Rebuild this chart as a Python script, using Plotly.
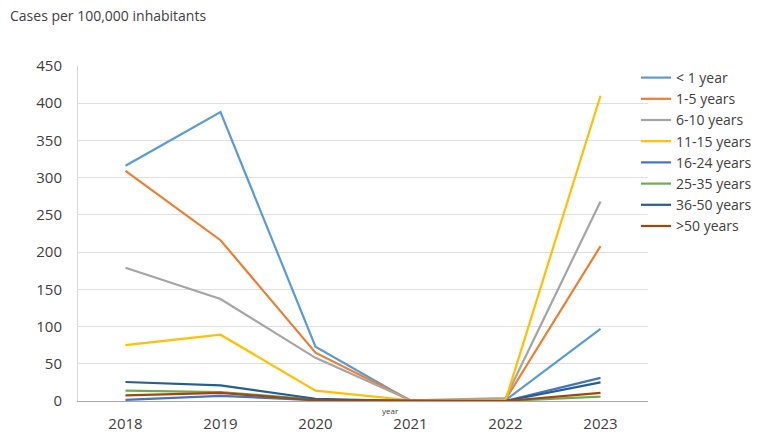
import plotly.graph_objects as go

years = ["2018", "2019", "2020", "2021", "2022", "2023"]
series_names = ["< 1 year", "1-5 years", "6-10 years", "11-15 years",
                "16-24 years", "25-35 years", "36-50 years", ">50 years"]
lt1 = [316, 388, 73, 0, 1, 97]
y1_5 = [309, 216, 65, 1, 2, 208]
y6_10 = [179, 137, 58, 1, 4, 268]
y11_15 = [75, 89, 14, 1, 1, 410]
y16_24 = [1.5, 7, 1, 0, 0, 31]
y25_35 = [14, 12, 2, 0, 0, 6]
y36_50 = [25.5, 21, 3, 0, 0, 25]
gt50 = [7.5, 11, 1, 0, 0, 11]
values = [lt1, y1_5, y6_10, y11_15, y16_24, y25_35, y36_50, gt50]
colors = ["#5B9BD5", "#ED7D31", "#A5A5A5", "#FFC000",
          "#4472C4", "#70AD47", "#255E91", "#9E480E"]

font = "Open Sans"
fig = go.Figure()
for name, vals, c in zip(series_names, values, colors):
    fig.add_trace(go.Scatter(x=years, y=vals, name=name, mode="lines",
                             line=dict(color=c, width=2.2)))

PW = 570
PH = 335
fig.update_layout(
    width=764, height=436,
    margin=dict(l=78, r=116, t=66, b=35, autoexpand=False),
    paper_bgcolor="white", plot_bgcolor="white",
    font=dict(family=font, size=15, color="#404040"),
    showlegend=True,
    legend=dict(x=(636 - 78) / PW, y=1 + 4 / PH, xanchor="left", yanchor="top",
                font=dict(size=14, color="#404040"),
                itemwidth=30, tracegroupgap=0, bgcolor="rgba(0,0,0,0)"),
    xaxis=dict(type="category", range=[-0.5, 5.5], showgrid=False, showline=True,
               linecolor="#A6A6A6", linewidth=1, ticks="", automargin=False,
               ticklabelstandoff=9,
               tickfont=dict(size=15, color="#404040"), zeroline=False),
    yaxis=dict(range=[0, 450], dtick=50, showgrid=True, gridcolor="#E0E0E0",
               gridwidth=1, showline=True, linecolor="#D9D9D9", zeroline=False,
               automargin=False, ticklabelstandoff=12,
               tickfont=dict(size=15, color="#404040"), ticks=""),
    annotations=[
        dict(text="Cases per 100,000 inhabitants", xref="paper", yref="paper",
             x=-70 / PW, y=1 + (66 - 15) / PH, xanchor="left", yanchor="middle",
             showarrow=False, font=dict(size=14, color="#404040")),
        dict(text="year", xref="paper", yref="paper",
             x=(390 - 78) / PW, y=-(410 - 401) / PH, xanchor="center",
             yanchor="middle", showarrow=False,
             font=dict(size=8, color="#404040")),
    ],
)
fig.write_html("out.html", config={"displayModeBar": False},
               post_script="document.body.style.margin='0px';document.body.style.overflow='hidden';")
